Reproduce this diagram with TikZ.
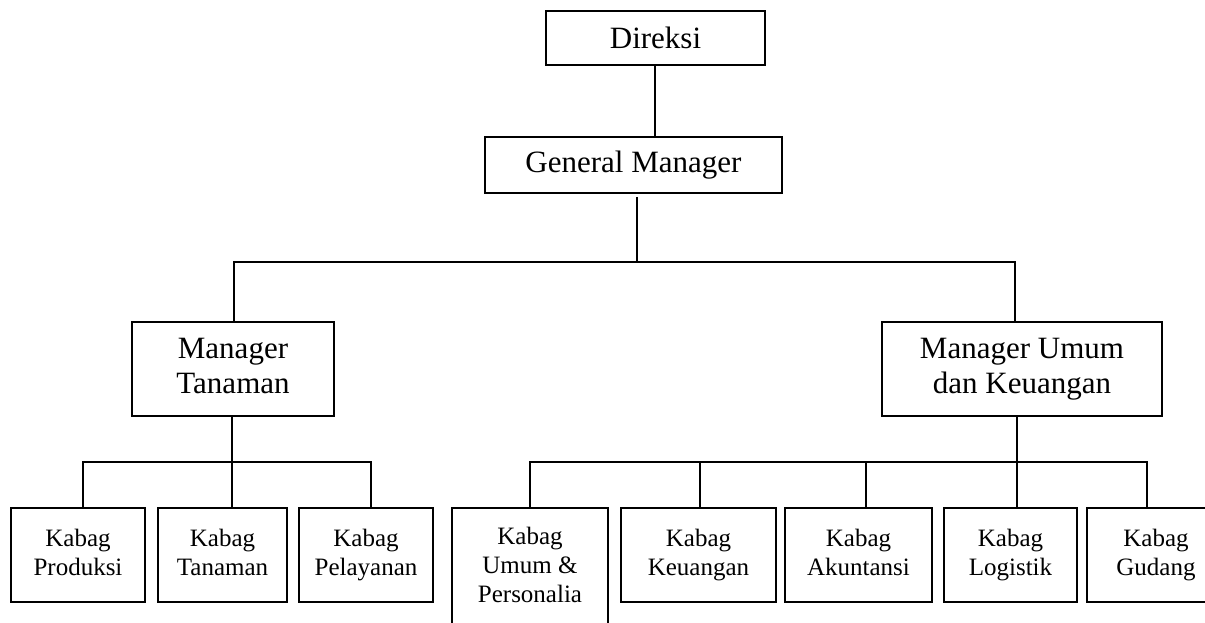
\documentclass[tikz,border=0pt]{standalone}
\usepackage{fontspec}
\setmainfont{Liberation Serif}
\begin{document}
\begin{tikzpicture}[x=1pt,y=-1pt,
  box/.style={draw, line width=1.8pt, inner sep=0pt, align=center, font=\fontsize{25}{29}\selectfont},
  big/.style={font=\fontsize{31}{35}\selectfont},
  conn/.style={line width=1.8pt, line join=miter}]
\useasboundingbox (0,0) rectangle (1205,623);
\clip (0,0) rectangle (1205,623);
% top level
\node[box,big,minimum width=219pt,minimum height=54pt] (dir) at (655.5,38) {Direksi};
\node[box,big,minimum width=297pt,minimum height=56pt] (gm) at (633.5,165) {General Manager};
\node[box,big,minimum width=202pt,minimum height=94pt] (mt) at (233,369) {Manager\\Tanaman\vphantom{g}};
\node[box,big,minimum width=280pt,minimum height=94pt] (mu) at (1022,369) {Manager Umum\\dan Keuangan};
% bottom row
\node[box,minimum width=134pt,minimum height=94pt] (prod) at (78,555) {Kabag\\Produksi\vphantom{g}};
\node[box,minimum width=129pt,minimum height=94pt] (tan) at (222.5,555) {Kabag\\Tanaman\vphantom{g}};
\node[box,minimum width=134pt,minimum height=94pt] (pel) at (366,555) {Kabag\\Pelayanan};
\node[box,minimum width=156pt,minimum height=120pt] (ump) at (530,568) {Kabag\\Umum \&\\Personalia\vphantom{g}};
\node[box,minimum width=155pt,minimum height=94pt] (keu) at (698.5,555) {Kabag\\Keuangan};
\node[box,minimum width=147pt,minimum height=94pt] (aku) at (858.5,555) {Kabag\\Akuntansi\vphantom{g}};
\node[box,minimum width=133pt,minimum height=94pt] (log) at (1010.5,555) {Kabag\\Logistik};
\node[box,minimum width=138pt,minimum height=94pt] (gud) at (1156,555) {Kabag\\Gudang};
% bus coordinates
\coordinate (xdir) at (655,0);
\coordinate (xgm) at (637,262);
\coordinate (xmt) at (234,262);
\coordinate (xmu) at (1015,262);
\coordinate (xmtd) at (232,462);
\coordinate (xprod) at (83,462);
\coordinate (xpel) at (371,462);
\coordinate (xmud) at (1017,462);
\coordinate (xump) at (530,462);
\coordinate (xkeu) at (700,462);
\coordinate (xaku) at (866,462);
\coordinate (xgud) at (1147,462);
% connectors
\draw[conn] (dir.south -| xdir) -- (gm.north -| xdir);
\draw[conn] ([yshift=-3pt]gm.south -| xgm) -- (xgm);
\draw[conn] (mt.north -| xmt) -- (xmt) -- (xmu) -- (mu.north -| xmu);
\draw[conn] (mt.south -| xmtd) -- (tan.north -| xmtd);
\draw[conn] (prod.north -| xprod) -- (xprod) -- (xpel) -- (pel.north -| xpel);
\draw[conn] (mu.south -| xmud) -- (log.north -| xmud);
\draw[conn] (ump.north -| xump) -- (xump) -- (xgud) -- (gud.north -| xgud);
\draw[conn] (xkeu) -- (keu.north -| xkeu);
\draw[conn] (xaku) -- (aku.north -| xaku);
\end{tikzpicture}
\end{document}
